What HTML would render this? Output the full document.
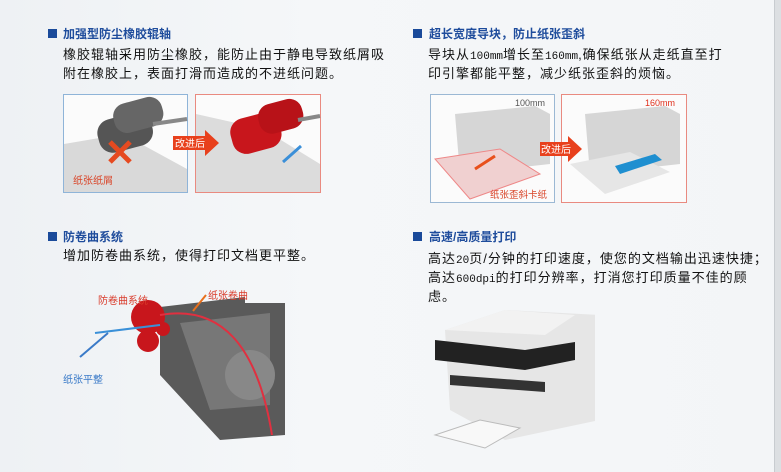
<!DOCTYPE html>
<html><head><meta charset="utf-8"><style>
body{margin:0;width:781px;height:472px;overflow:hidden;background:linear-gradient(90deg,#eef1f4 0%,#f5f7f9 40%,#f3f5f7 100%);position:relative;font-family:"Liberation Sans","Noto Sans CJK SC",sans-serif}
.a{position:absolute;white-space:nowrap}
.h{font-size:12px;font-weight:bold;color:#1e4c9c}
.sq{position:absolute;width:9px;height:9px;background:#1a4a9a}
.t{font-size:13px;color:#111;letter-spacing:1px;line-height:19px}
.d{font-family:"Liberation Mono",monospace;font-size:11px;letter-spacing:0;line-height:0}
</style></head><body>
<div style="position:absolute;right:0;top:0;width:6px;height:472px;background:#dcdfe2;border-left:1px solid #c8ccd0"></div>

<div class="sq" style="left:48px;top:29px"></div>
<div class="a h" style="left:63px;top:25px">加强型防尘橡胶辊轴</div>
<div class="a t" style="left:63px;top:45px">橡胶辊轴采用防尘橡胶，能防止由于静电导致纸屑吸<br>附在橡胶上，表面打滑而造成的不进纸问题。</div>

<svg class="a" style="left:63px;top:94px" width="262" height="100">
<rect x="0.5" y="0.5" width="124" height="98" fill="#fbfbfb" stroke="#8fb4d8"/>
<polygon points="1,50 60,40 124,75 124,98 1,98" fill="#d9d9d9"/>
<rect x="35" y="22" width="55" height="34" rx="14" fill="#555" transform="rotate(-15 60 40)"/>
<rect x="50" y="6" width="50" height="30" rx="13" fill="#666" transform="rotate(-15 75 20)"/>
<line x1="90" y1="30" x2="124" y2="25" stroke="#888" stroke-width="4"/>
<path d="M47 48 L67 68 M67 48 L47 68" stroke="#e64a20" stroke-width="5"/>
<text x="10" y="90" font-size="10" fill="#d9462a" font-family="Noto Sans CJK SC">纸张纸屑</text>
<rect x="132.5" y="0.5" width="125" height="98" fill="#fbfbfb" stroke="#e98a80"/>
<polygon points="133,20 200,35 257,70 257,98 133,98" fill="#dcdcdc"/>
<rect x="168" y="22" width="50" height="36" rx="14" fill="#c8161c" transform="rotate(-15 190 40)"/>
<rect x="195" y="8" width="45" height="30" rx="13" fill="#b81218" transform="rotate(-15 215 22)"/>
<line x1="235" y1="26" x2="257" y2="22" stroke="#888" stroke-width="4"/>
<path d="M220 68 L238 52" stroke="#3b8fd8" stroke-width="3"/>
<polygon points="110,42 142,42 142,36 156,49 142,62 142,56 110,56" fill="#e8401c"/>
<text x="112" y="53" font-size="10" fill="#fff" font-family="Noto Sans CJK SC">改进后</text>
</svg>

<div class="sq" style="left:413px;top:29px"></div>
<div class="a h" style="left:429px;top:25px">超长宽度导块，防止纸张歪斜</div>
<div class="a t" style="left:428px;top:45px">导块从<span class="d">100mm</span>增长至<span class="d">160mm</span>,确保纸张从走纸直至打<br>印引擎都能平整，减少纸张歪斜的烦恼。</div>

<svg class="a" style="left:430px;top:94px" width="260" height="110">
<rect x="0.5" y="0.5" width="124" height="108" fill="#fbfbfb" stroke="#9bb8d4"/>
<path d="M25 20 L105 12 L120 20 L120 70 L30 80 Z" fill="#d6d6d6"/>
<polygon points="5,65 70,55 110,80 40,105" fill="#f0d0d0" stroke="#e88" />
<path d="M45 75 L65 62" stroke="#e8501c" stroke-width="3"/>
<text x="85" y="12" font-size="9" fill="#555">100mm</text>
<text x="60" y="104" font-size="9.5" fill="#d9462a" font-family="Noto Sans CJK SC">纸张歪斜卡纸</text>
<rect x="131.5" y="0.5" width="125" height="108" fill="#fbfbfb" stroke="#e98a80"/>
<path d="M155 20 L235 12 L250 20 L250 70 L160 80 Z" fill="#d6d6d6"/>
<polygon points="140,70 200,58 240,78 175,100" fill="#e6e6e6"/>
<polygon points="185,72 225,60 232,66 190,80" fill="#1f8fd0"/>
<text x="215" y="12" font-size="9" fill="#e0301c">160mm</text>
<polygon points="110,48 138,48 138,42 152,55 138,68 138,62 110,62" fill="#e8401c"/>
<text x="111" y="59" font-size="10" fill="#fff" font-family="Noto Sans CJK SC">改进后</text>
</svg>

<div class="sq" style="left:48px;top:232px"></div>
<div class="a h" style="left:63px;top:228px">防卷曲系统</div>
<div class="a t" style="left:63px;top:246px">增加防卷曲系统，使得打印文档更平整。</div>

<svg class="a" style="left:60px;top:285px" width="230" height="175">
<path d="M100 22 L185 12 L185 18 L225 18 L225 150 L160 155 L100 90 Z" fill="#5a5a5a"/>
<path d="M120 38 L210 28 L210 120 L150 125 Z" fill="#777"/>
<circle cx="190" cy="90" r="25" fill="#888"/>
<circle cx="88" cy="32" r="17" fill="#c8161c"/>
<circle cx="88" cy="56" r="11" fill="#c8161c"/>
<circle cx="103" cy="44" r="7" fill="#c8161c"/>
<path d="M100 30 Q190 14 212 150" stroke="#e03040" stroke-width="2" fill="none"/>
<path d="M35 48 L100 40" stroke="#3a90d8" stroke-width="2"/>
<path d="M20 72 L48 48" stroke="#3a7ac8" stroke-width="2"/>
<path d="M133 26 L146 10" stroke="#e8701c" stroke-width="2"/>
<text x="38" y="19" font-size="10" fill="#d93a2a" font-family="Noto Sans CJK SC">防卷曲系统</text>
<text x="148" y="14" font-size="10" fill="#d93a2a" font-family="Noto Sans CJK SC">纸张卷曲</text>
<text x="3" y="98" font-size="10" fill="#3a7ac8" font-family="Noto Sans CJK SC">纸张平整</text>
</svg>

<div class="sq" style="left:413px;top:232px"></div>
<div class="a h" style="left:429px;top:228px">高速/高质量打印</div>
<div class="a t" style="left:428px;top:249px">高达<span class="d">20</span>页/分钟的打印速度，使您的文档输出迅速快捷；<br>高达<span class="d">600dpi</span>的打印分辨率，打消您打印质量不佳的顾<br>虑。</div>

<svg class="a" style="left:425px;top:300px" width="170" height="150">
<path d="M20 30 L80 10 L175 15 L175 120 L80 140 L25 110 Z" fill="#e6e6e6"/>
<path d="M20 30 L80 10 L150 15 L120 35 Z" fill="#f2f2f2"/>
<path d="M10 40 L100 50 L150 42 L150 60 L100 70 L10 60 Z" fill="#222"/>
<path d="M25 75 L120 82 L120 92 L25 85 Z" fill="#333"/>
<path d="M10 135 L55 120 L95 128 L60 148 Z" fill="#f8f8f8" stroke="#bbb"/>
</svg>
</body></html>
